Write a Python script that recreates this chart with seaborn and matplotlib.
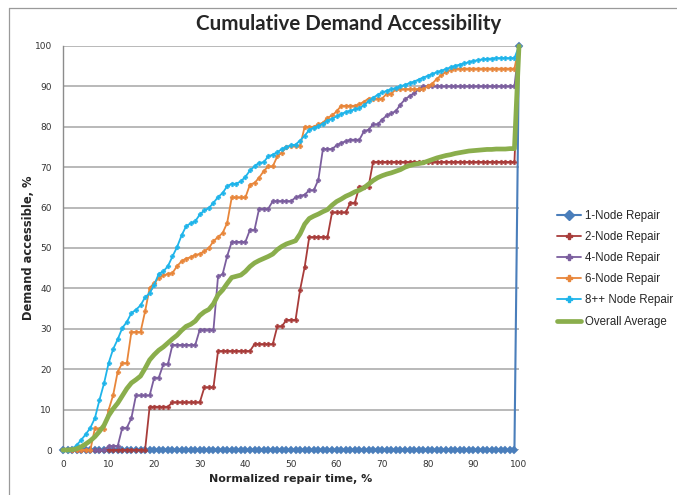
import matplotlib
matplotlib.use("Agg")
import matplotlib.pyplot as plt
from matplotlib.lines import Line2D
import pandas as pd
import seaborn as sns

# Normalized repair time (%), one point per percent
repair_time = list(range(0, 101))

one_node = [
    0, 0, 0, 0, 0, 0, 0, 0, 0, 0,
    0, 0, 0, 0, 0, 0, 0, 0, 0, 0,
    0, 0, 0, 0, 0, 0, 0, 0, 0, 0,
    0, 0, 0, 0, 0, 0, 0, 0, 0, 0,
    0, 0, 0, 0, 0, 0, 0, 0, 0, 0,
    0, 0, 0, 0, 0, 0, 0, 0, 0, 0,
    0, 0, 0, 0, 0, 0, 0, 0, 0, 0,
    0, 0, 0, 0, 0, 0, 0, 0, 0, 0,
    0, 0, 0, 0, 0, 0, 0, 0, 0, 0,
    0, 0, 0, 0, 0, 0, 0, 0, 0, 0,
    100,
]

two_node = [
    0, 0, 0, 0, 0, 0, 0, 0, 0, 0,
    0, 0, 0, 0, 0, 0, 0, 0, 0, 10.7,
    10.7, 10.7, 10.7, 10.7, 11.8, 11.8, 11.8, 11.8, 11.8, 11.8,
    11.8, 15.5, 15.5, 15.5, 24.5, 24.5, 24.5, 24.5, 24.5, 24.5,
    24.5, 24.5, 26.2, 26.2, 26.2, 26.2, 26.2, 30.6, 30.6, 32.2,
    32.2, 32.2, 39.7, 45.3, 52.7, 52.7, 52.7, 52.7, 52.7, 58.8,
    58.8, 58.8, 58.8, 61.2, 61.2, 65.2, 65.2, 65.2, 71.3, 71.3,
    71.3, 71.3, 71.3, 71.3, 71.3, 71.3, 71.3, 71.3, 71.3, 71.3,
    71.3, 71.3, 71.3, 71.3, 71.3, 71.3, 71.3, 71.3, 71.3, 71.3,
    71.3, 71.3, 71.3, 71.3, 71.3, 71.3, 71.3, 71.3, 71.3, 71.3,
    100,
]

four_node = [
    0, 0, 0, 0, 0, 0, 0, 0, 0, 0,
    1.0, 1.0, 1.0, 5.5, 5.5, 7.9, 13.5, 13.5, 13.5, 13.5,
    17.9, 17.9, 21.2, 21.2, 26.0, 26.0, 26.0, 26.0, 26.0, 26.0,
    29.8, 29.8, 29.8, 29.8, 43.0, 43.5, 48.0, 51.5, 51.5, 51.5,
    51.5, 54.5, 54.5, 59.7, 59.7, 59.7, 61.6, 61.6, 61.6, 61.6,
    61.6, 62.5, 62.9, 63.2, 64.3, 64.3, 66.9, 74.5, 74.5, 74.5,
    75.4, 76.0, 76.4, 76.8, 76.8, 76.8, 78.9, 79.3, 80.6, 80.6,
    81.8, 82.8, 83.3, 83.9, 85.5, 86.8, 87.6, 88.3, 89.3, 90.0,
    90.0, 90.0, 90.0, 90.0, 90.0, 90.0, 90.0, 90.0, 90.0, 90.0,
    90.0, 90.0, 90.0, 90.0, 90.0, 90.0, 90.0, 90.0, 90.0, 90.0,
    100,
]

six_node = [
    0, 0, 0, 0, 0, 0, 0, 5.4, 5.2, 5.1,
    9.9, 13.6, 19.4, 21.5, 21.5, 29.2, 29.2, 29.2, 34.3, 40.1,
    41.3, 42.6, 43.2, 43.6, 43.8, 45.5, 46.7, 47.4, 47.7, 48.3,
    48.5, 49.2, 50.0, 51.7, 52.7, 53.7, 56.2, 62.5, 62.5, 62.5,
    62.5, 65.7, 66.1, 67.4, 69.0, 70.2, 70.2, 72.7, 73.6, 75.0,
    75.3, 75.3, 75.3, 80.0, 80.0, 80.0, 80.6, 81.0, 82.2, 82.8,
    83.8, 85.2, 85.2, 85.2, 85.2, 85.6, 86.2, 87.0, 87.0, 87.0,
    87.0, 88.2, 88.2, 89.3, 89.3, 89.3, 89.3, 89.3, 89.3, 89.3,
    90.0, 90.7, 91.9, 92.8, 93.6, 94.0, 94.4, 94.4, 94.4, 94.4,
    94.4, 94.4, 94.4, 94.4, 94.4, 94.4, 94.4, 94.4, 94.4, 94.4,
    100,
]

eight_plus_node = [
    0, 0, 0.3, 1.2, 2.5, 3.9, 5.5, 7.9, 12.4, 16.5,
    21.5, 25.0, 27.4, 30.2, 31.7, 33.9, 34.7, 35.8, 37.8, 38.8,
    40.9, 43.6, 44.2, 45.5, 47.9, 50.2, 53.1, 55.4, 56.1, 56.6,
    58.3, 59.3, 59.9, 61.2, 62.6, 63.6, 65.3, 65.9, 65.9, 66.5,
    67.6, 69.2, 70.2, 71.1, 71.2, 72.7, 73.1, 73.7, 74.5, 75.0,
    75.4, 75.6, 76.6, 77.8, 79.2, 79.8, 80.1, 80.8, 81.5, 82.0,
    82.6, 83.2, 83.6, 84.0, 84.3, 84.6, 85.3, 86.3, 87.2, 87.9,
    88.5, 88.9, 89.3, 89.6, 90.0, 90.4, 90.8, 91.2, 91.7, 92.2,
    92.6, 93.1, 93.5, 93.9, 94.3, 94.7, 95.1, 95.4, 95.7, 96.0,
    96.3, 96.5, 96.7, 96.8, 96.9, 97.0, 97.0, 97.0, 97.0, 97.0,
    100,
]

overall_average = [
    0, 0, 0.1, 0.3, 0.8, 1.5, 2.3, 3.3, 4.6, 6.1,
    8.5, 10.2, 11.6, 13.4, 15.2, 16.6, 17.4, 18.3, 20.2, 22.3,
    23.6, 24.7, 25.5, 26.5, 27.5, 28.4, 29.6, 30.6, 31.1, 31.9,
    33.3, 34.2, 34.8, 36.2, 38.4, 39.6, 41.2, 42.7, 43.0, 43.3,
    44.2, 45.4, 46.3, 46.9, 47.4, 47.9, 48.5, 49.6, 50.4, 51.0,
    51.4, 51.8, 53.5, 55.9, 57.3, 57.9, 58.4, 59.0, 59.5, 60.6,
    61.5, 62.1, 62.8, 63.3, 63.9, 64.3, 64.9, 65.8, 66.7, 67.4,
    67.9, 68.3, 68.6, 69.0, 69.4, 70.0, 70.4, 70.7, 70.9, 71.1,
    71.5, 71.9, 72.3, 72.6, 72.9, 73.1, 73.4, 73.6, 73.8, 74.0,
    74.1, 74.2, 74.3, 74.4, 74.4, 74.5, 74.5, 74.5, 74.6, 74.6,
    100,
]

series_names = ["1-Node Repair", "2-Node Repair", "4-Node Repair",
                "6-Node Repair", "8++ Node Repair", "Overall Average"]
series_values = [one_node, two_node, four_node, six_node,
                 eight_plus_node, overall_average]
series_colors = ["#4A7EBB", "#A83C3A", "#7B5E9E", "#E8863A", "#1EB4EA", "#8AAE4C"]
series_markers = ["D", "P", "P", "P", "P", None]
marker_sizes = [4.5, 3.4, 3.4, 3.4, 3.4, 0]
line_widths = [1.5, 1.3, 1.3, 1.3, 1.3, 3.4]

frames = []
for name, vals in zip(series_names, series_values):
    frames.append(pd.DataFrame({"time": repair_time, "demand": vals, "series": name}))
data = pd.concat(frames, ignore_index=True)

sns.set_style("white")
plt.rcParams["font.family"] = ["DejaVu Sans"]

fig = plt.figure(figsize=(6.77, 4.95), dpi=100)
ax = fig.add_axes([63 / 677, 45 / 495, (519 - 63) / 677, (450 - 46) / 495])

for i, name in enumerate(series_names):
    sub = data[data["series"] == name]
    kw = dict(x="time", y="demand", data=sub, ax=ax, color=series_colors[i],
              linewidth=line_widths[i], estimator=None, sort=False,
              clip_on=False, zorder=3 + i)
    if series_markers[i]:
        kw.update(marker=series_markers[i], markersize=marker_sizes[i],
                  markeredgewidth=0.3, markeredgecolor=series_colors[i])
    sns.lineplot(**kw)

ax.set_xlim(0, 100)
ax.set_ylim(0, 100)
ax.set_xticks(range(0, 101, 10))
ax.set_yticks(range(0, 101, 10))
ax.tick_params(axis="both", length=0, labelsize=6.5, labelcolor="#333333")
ax.tick_params(axis="x", pad=7)
ax.tick_params(axis="y", pad=8)
ax.yaxis.grid(True, color="#A6A6A6", linewidth=1.1)
ax.xaxis.grid(False)
ax.set_axisbelow(True)
for side in ["top", "right", "bottom"]:
    ax.spines[side].set_visible(False)
ax.spines["left"].set_color("#8C8C8C")
ax.spines["left"].set_linewidth(1.0)

ax.set_xlabel("Normalized repair time, %", fontsize=8, fontweight="bold", labelpad=4)
ax.set_ylabel("Demand accessible, %", fontsize=8.3, fontweight="bold")
ax.yaxis.set_label_coords(-0.061, 0.5)

fig.text(349 / 677, 1 - 24 / 495, "Cumulative Demand Accessibility",
         ha="center", va="center", fontsize=14.8, fontweight="bold",
         family=["Lato", "DejaVu Sans"])

handles = []
for i, name in enumerate(series_names):
    if series_markers[i]:
        handles.append(Line2D([], [], color=series_colors[i], lw=line_widths[i],
                              marker=series_markers[i],
                              markersize=marker_sizes[i] + 1))
    else:
        handles.append(Line2D([], [], color=series_colors[i], lw=line_widths[i]))
fig.legend(handles, series_names, loc="upper left",
           bbox_to_anchor=(557 / 677, 1 - 210 / 495), frameon=False,
           prop={"family": ["Liberation Sans", "DejaVu Sans"], "size": 8.3},
           handlelength=2.1, handletextpad=0.35,
           labelspacing=0.79, borderaxespad=0, borderpad=0)

# surrounding frame of the figure panel
fig.add_artist(Line2D([9 / 677, 9 / 677], [0, 1 - 8 / 495],
                      transform=fig.transFigure, color="#9A9A9A", lw=0.9))
fig.add_artist(Line2D([9 / 677, 1], [1 - 8 / 495, 1 - 8 / 495],
                      transform=fig.transFigure, color="#9A9A9A", lw=0.9))

fig.savefig("out.png", dpi=100)
